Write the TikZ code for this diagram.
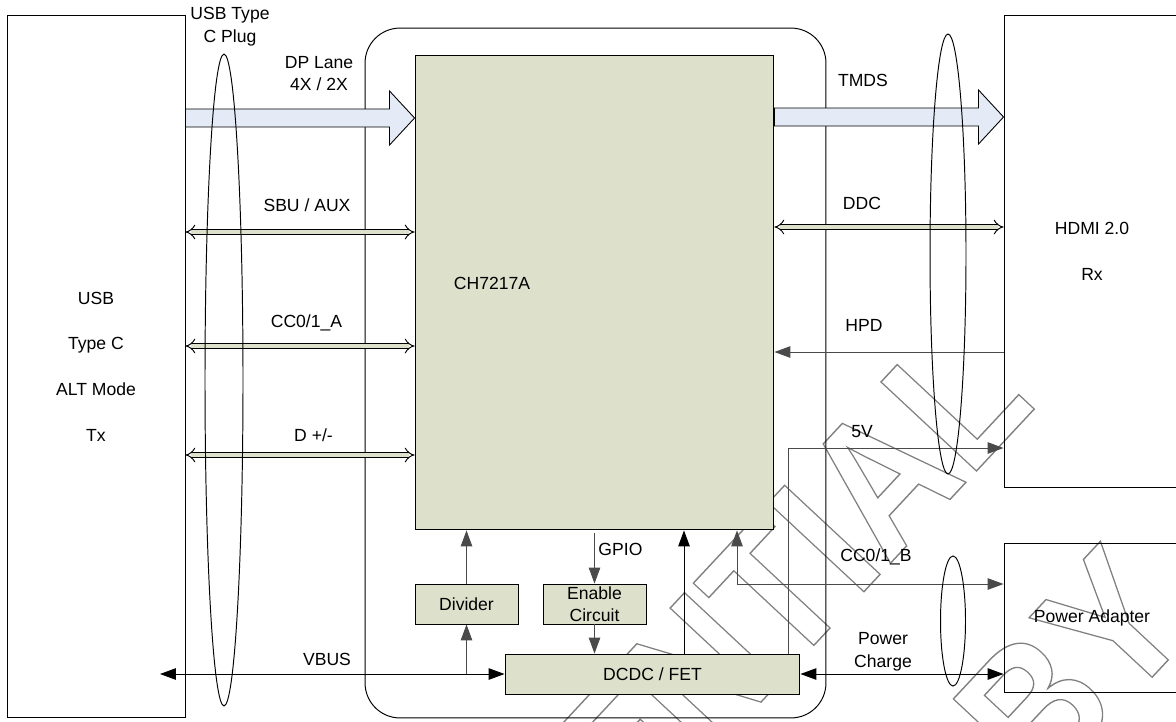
\documentclass[tikz,border=0pt]{standalone}
\usepackage{fontspec}
\setmainfont{Liberation Sans}
\usetikzlibrary{arrows.meta,calc}
\definecolor{chipfill}{HTML}{DDE1CC}
\definecolor{lanefill}{HTML}{E4EBF7}
\definecolor{markgray}{HTML}{808080}
\definecolor{wire}{HTML}{4A4A4A}
% hollow letters for the watermark
\newcommand\hollowtext[1]{\special{pdf:literal direct 1 Tr 0.8 w}#1\special{pdf:literal direct 0 Tr 0.55 w}}
% wide lane arrow from #1 to #2
\newcommand\lanearrow[2]{%
  \draw[lane] ($(#1)+(0,-9)$) -- ($(#2)+(-25,-9)$) -- ($(#2)+(-25,-27)$) -- (#2)
    -- ($(#2)+(-25,27)$) -- ($(#2)+(-25,9)$) -- ($(#1)+(0,9)$) -- cycle;}
\tikzset{
  blk/.style={draw, fill=chipfill, inner sep=0pt, align=center},
  lane/.style={draw, fill=lanefill, line width=.5pt},
  bus/.style={double=chipfill, double distance=2.4pt, line width=.55pt, {Implies}-{Implies}},
  sig/.style={-{Triangle[length=9pt,width=6.5pt]}},
  sigs/.style={{Triangle[length=9pt,width=6.5pt]}-{Triangle[length=9pt,width=6.5pt]}},
  lbl/.style={inner sep=0pt, align=center},
  wmark/.style={inner sep=0pt, anchor=base east, rotate=47, xscale=.87, text=markgray,
    font=\fontsize{108}{110}\selectfont\bfseries},
}
\begin{document}
\begin{tikzpicture}[x=0.02cm,y=-0.02cm,line width=.55pt,
  every node/.style={font=\fontsize{10}{13}\selectfont}]
\useasboundingbox (0,0) rectangle (1176,721);

% watermark
\node[wmark] (wmA) at (1038,405) {\hollowtext{CONFIDENTIAL}};
\node[wmark] (wmB) at (1198,628) {\hollowtext{BY}};

% blocks
\node[draw, rounded corners=.7cm, minimum width=9.22cm, minimum height=13.8cm] (board) at (595.5,373) {};
\node[draw, inner sep=0pt, align=center, minimum width=3.56cm, minimum height=14.06cm,
  font=\fontsize{10}{26}\selectfont] (tx) at (96,366.5) {USB\\Type C\\ALT Mode\\Tx};
\node[draw, inner sep=0pt, align=center, minimum width=3.52cm, minimum height=9.46cm,
  font=\fontsize{10}{26}\selectfont] (hdmi) at (1092,251.5) {HDMI 2.0\\Rx};
\node[draw, inner sep=0pt, minimum width=3.52cm, minimum height=2.98cm] (pwr) at (1092,617.5) {Power Adapter};
\node[blk, minimum width=7.18cm, minimum height=9.5cm] (chip) at (594.5,292.5) {};
\node[lbl] (chiplbl) at (492,283) {CH7217A};
\node[blk, minimum width=2.06cm, minimum height=.8cm] (divider) at (466.5,604) {Divider};
\node[blk, minimum width=2.06cm, minimum height=.8cm, font=\fontsize{10}{12.5}\selectfont] (enable) at (594.5,604) {Enable\\Circuit};
\node[blk, minimum width=5.9cm, minimum height=.8cm] (dcdc) at (652.5,674) {DCDC / FET};

% lanes
\coordinate (dp) at (300,118);
\coordinate (dpS) at (dp -| tx.east); \coordinate (dpE) at (dp -| chip.west);
\lanearrow{dpS}{dpE}
\coordinate (tmds) at (880,117);
\coordinate (tmdsS) at (tmds -| chip.east); \coordinate (tmdsE) at (tmds -| hdmi.west);
\lanearrow{tmdsS}{tmdsE}

% side band buses
\coordinate (sbu) at (300,232); \draw[bus] (sbu -| tx.east) -- (sbu -| chip.west);
\coordinate (cca) at (300,346); \draw[bus] (cca -| tx.east) -- (cca -| chip.west);
\coordinate (dusb) at (300,455); \draw[bus] (dusb -| tx.east) -- (dusb -| chip.west);
\coordinate (ddc) at (880,227); \draw[bus] (ddc -| chip.east) -- (ddc -| hdmi.west);

% power and control
\coordinate (vbus) at (160,674);
\draw[sigs] (vbus) -- (dcdc.west);
\draw[sig, wire] (dcdc.west -| divider.south) -- (divider.south);
\draw[sig, wire] (divider.north) -- (divider.north |- chip.south);
\coordinate (gpio) at (594.5,533);
\draw[sig, wire] (gpio) -- (enable.north);
\draw[sig, wire] (enable.south) -- (enable.south |- dcdc.north);
\coordinate (fet) at (684,654);
\draw[sig] (fet) -- (fet |- chip.south);
\coordinate (ccb) at (737,584);
\draw[sigs, wire] (ccb |- chip.south) -- (ccb) -- (ccb -| pwr.west);
\coordinate (v5) at (788,448);
\draw[sig, wire] (v5 |- dcdc.north) -- (v5) -- (v5 -| hdmi.west);
\coordinate (hpd) at (890,352);
\draw[sig, wire] (hpd -| hdmi.west) -- (hpd -| chip.east);
\draw[sigs] (dcdc.east) -- (dcdc.east -| pwr.west);

% cable groups
\draw (224,380) ellipse [x radius=.38cm, y radius=6.52cm];
\draw (948,254) ellipse [x radius=.36cm, y radius=4.4cm];
\draw (953,621) ellipse [x radius=.25cm, y radius=1.3cm];

% labels
\node[lbl] (plug) at (230,27) {USB Type\\C Plug};
\node[lbl] (dplbl) at (319,73.5) {DP Lane\\4X / 2X};
\node[lbl] (tmdslbl) at (863,80) {TMDS};
\node[lbl] (sbulbl) at (307,205) {SBU / AUX};
\node[lbl] (ccalbl) at (306.5,323) {CC0/1\_A};
\node[lbl] (dlbl) at (313.5,435) {D +/-};
\node[lbl] (ddclbl) at (862,203) {DDC};
\node[lbl] (hpdlbl) at (864,325) {HPD};
\node[lbl] (v5lbl) at (862,432) {5V};
\node[lbl] (ccblbl) at (876,557) {CC0/1\_B};
\node[lbl] (chglbl) at (883,651.5) {Power\\Charge};
\node[lbl, anchor=west] (gpiolbl) at (598,549) {GPIO};
\node[lbl] (vbuslbl) at (327,659) {VBUS};
\end{tikzpicture}
\end{document}
